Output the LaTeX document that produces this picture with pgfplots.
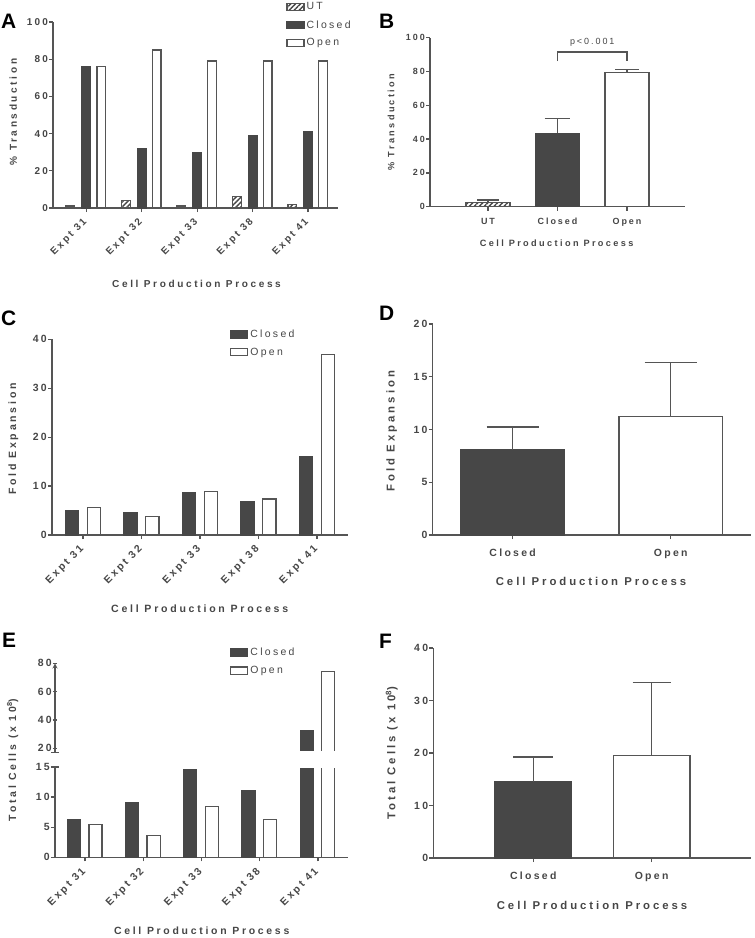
\documentclass[border=0pt]{standalone}
\usepackage{pgfplots}
\pgfplotsset{compat=1.18}
\usepackage{fontspec}
\setmainfont{Liberation Sans}
\newfontfamily\gptick[LetterSpace=22]{Liberation Sans}
\newfontfamily\gplab[LetterSpace=26]{Liberation Sans}
\newfontfamily\gpleg[LetterSpace=22]{Liberation Sans}
\usetikzlibrary{patterns.meta}
\definecolor{barc}{HTML}{474747}
\definecolor{axc}{HTML}{555555}
\definecolor{txc}{HTML}{464646}
\newcommand\tkf[1]{\fontsize{#1}{#1}\selectfont\bfseries\gptick}
\pgfplotsset{
  gp/.style={
    scale only axis,
    axis x line=bottom, axis y line=left,
    axis line style={-, draw=axc, line width=1.3bp},
    tick align=outside, major tick length=4bp,
    tick style={draw=axc, line width=1.3bp},
    minor tick num=0,
    tick label style={text=txc, inner sep=1bp},
    /pgf/number format/assume math mode=true,
    enlargelimits=false,
    ymin=0,
  },
  tf/.style={every tick label/.append style={font=\tkf{#1}}},
  xrot/.style={xtick={0,1,2,3,4}, xticklabels={Expt 31,Expt 32,Expt 33,Expt 38,Expt 41},
    xticklabel style={rotate=45, anchor=east}, xticklabel shift=#1},
  lgbox/.style={legend image code/.code={\draw[##1] (0bp,-3.6bp) rectangle (17bp,3.6bp);}},
  closedbar/.style={ybar, fill=barc, draw=barc, line width=1.3bp, lgbox},
  openbar/.style={ybar, fill=white, draw=axc, line width=1.3bp, lgbox},
  utbar/.style={ybar, draw=axc, line width=1.3bp, pattern={Lines[angle=45,distance=3.5bp,line width=1.4bp]}, pattern color=barc, lgbox},
  errb/.style={/pgfplots/error bars/y dir=plus, /pgfplots/error bars/y explicit,
    /pgfplots/error bars/error mark=|,
    /pgfplots/error bars/error bar style={draw=axc, line width=1.3bp, solid},
    /pgfplots/error bars/error mark options={draw=axc, line width=1.3bp, mark size=#1, solid}},
  gpleg/.style={legend style={draw=none, fill=none, inner sep=0pt, row sep=5bp,
    font=\fontsize{10.5}{12}\selectfont\gpleg, text=txc, cells={anchor=west}}, legend cell align=left},
}
\newcommand\lab[2]{{\fontsize{#1}{#1}\selectfont\gplab\bfseries\color{txc}#2}}
\begin{document}
\begin{tikzpicture}
\path[use as bounding box] (0,0) rectangle (755bp,-938bp);
% ---------------- A
\begin{axis}[gp, tf=10, xrot=8bp, at={(53bp,-208bp)}, anchor=south west,
  width=285bp, height=186bp, xmin=-0.6, xmax=4.54, ymax=100,
  ytick={0,20,40,60,80,100}, yticklabels={0,20,40,60,80,100},
  gpleg, legend style={at={(0.818,1.115)}, anchor=north west}]
\addplot[utbar, bar width=0.157, bar shift=-0.285] coordinates {(0,1) (1,4) (2,1) (3,6) (4,2)};
\addplot[closedbar, bar width=0.157, bar shift=0] coordinates {(0,76) (1,32) (2,30) (3,39) (4,41)};
\addplot[openbar, bar width=0.157, bar shift=0.27] coordinates {(0,76) (1,85) (2,79) (3,79) (4,79)};
\legend{UT, Closed, Open}
\end{axis}
% ---------------- B
\begin{axis}[gp, tf=9, at={(430bp,-206.7bp)}, anchor=south west, clip=false,
  width=255bp, height=169bp, xmin=-0.835, xmax=2.835, ymax=100,
  ytick={0,20,40,60,80,100}, yticklabels={0,20,40,60,80,100},
  xtick={0,1,2}, xticklabels={UT,Closed,Open}, xticklabel shift=6bp]
\addplot[utbar, bar width=0.63, bar shift=0, errb=11bp] coordinates {(0,2.5) +- (0,1.4)};
\addplot[closedbar, bar width=0.63, bar shift=0, errb=12.8bp] coordinates {(1,43.5) +- (0,8.6)};
\addplot[openbar, bar width=0.63, bar shift=0, errb=11.7bp] coordinates {(2,79.5) +- (0,1.5)};
\draw[axc, line width=1.3bp] (axis cs:1,86.2) -- (axis cs:1,91.5) -- (axis cs:2,91.5) -- (axis cs:2,86.2);
\node[text=txc, font=\fontsize{9}{9}\selectfont\gpleg] at (axis cs:1.5,97.3) {p<0.001};
\end{axis}
% ---------------- C
\begin{axis}[gp, tf=10.5, xrot=8bp, at={(52bp,-535bp)}, anchor=south west,
  width=296bp, height=195.7bp, xmin=-0.53, xmax=4.53, ymax=40,
  ytick={0,10,20,30,40}, yticklabels={0,10,20,30,40},
  gpleg, legend style={at={(0.601,1.06)}, anchor=north west}]
\addplot[closedbar, bar width=0.225, bar shift=-0.19] coordinates {(0,4.9) (1,4.55) (2,8.7) (3,6.75) (4,16.0)};
\addplot[openbar, bar width=0.225, bar shift=0.185] coordinates {(0,5.65) (1,3.8) (2,8.85) (3,7.35) (4,36.9)};
\legend{Closed, Open}
\end{axis}
% ---------------- D
\begin{axis}[gp, tf=10.5, at={(432.7bp,-535bp)}, anchor=south west,
  width=318bp, height=211bp, xmin=-0.506, xmax=1.506, ymax=20,
  ytick={0,5,10,15,20}, yticklabels={0,5,10,15,20},
  xtick={0,1}, xticklabels={Closed,Open}, xticklabel shift=9bp]
\addplot[closedbar, bar width=0.656, bar shift=0, errb=26bp] coordinates {(0,8.1) +- (0,2.15)};
\addplot[openbar, bar width=0.656, bar shift=0, errb=26bp] coordinates {(1,11.25) +- (0,5.1)};
\end{axis}
% ---------------- E (broken axis: lower part)
\begin{axis}[gp, tf=10.5, xrot=8bp, name=E1, at={(55bp,-857.3bp)}, anchor=south west,
  width=293bp, height=90.3bp, xmin=-0.517, xmax=4.517, ymax=15,
  ytick={0,5,10,15}, yticklabels={0,5,10,15}]
\addplot[closedbar, bar width=0.224, bar shift=-0.193] coordinates {(0,6.2) (1,9.0) (2,14.6) (3,11.0) (4,32.7)};
\addplot[openbar, bar width=0.224, bar shift=0.178] coordinates {(0,5.4) (1,3.6) (2,8.4) (3,6.3) (4,74)};
\end{axis}
% ---------------- E (upper part)
\begin{axis}[gp, tf=10.5, name=E2, at={(55bp,-752.5bp)}, anchor=south west,
  width=293bp, height=89.2bp, xmin=-0.517, xmax=4.517, ymin=17, ymax=80,
  ytick={20,40,60,80}, yticklabels={20,40,60,80},
  axis x line=none, axis y line=left, restrict y to domain=17:100,
  gpleg, legend style={at={(0.597,1.194)}, anchor=north west}]
\addplot[closedbar, bar width=0.224, bar shift=-0.193] coordinates {(0,6.2) (1,9.0) (2,14.6) (3,11.0) (4,32.7)};
\addplot[openbar, bar width=0.224, bar shift=0.178] coordinates {(0,5.4) (1,3.6) (2,8.4) (3,6.3) (4,74)};
\legend{Closed, Open}
\end{axis}
\fill[white] ([xshift=1bp,yshift=1.2bp]E2.south west) rectangle ([yshift=-1bp]E1.north east);
\draw[axc, line width=1.3bp] ([xshift=-4bp]E2.south west) -- ([xshift=4bp]E2.south west);
\draw[axc, line width=1.3bp] ([xshift=-4bp]E1.north west) -- ([xshift=4bp]E1.north west);
% ---------------- F
\begin{axis}[gp, tf=10.5, at={(433.3bp,-858bp)}, anchor=south west,
  width=317.7bp, height=210bp, xmin=-0.845, xmax=1.84, ymax=40,
  ytick={0,10,20,30,40}, yticklabels={0,10,20,30,40},
  xtick={0,1}, xticklabels={Closed,Open}, xticklabel shift=9bp]
\addplot[closedbar, bar width=0.65, bar shift=0, errb=20bp] coordinates {(0,14.5) +- (0,4.75)};
\addplot[openbar, bar width=0.65, bar shift=0, errb=19bp] coordinates {(1,19.5) +- (0,13.9)};
\end{axis}
% ---------------- titles
\node at (196.5bp,-284bp) {\lab{10.1}{Cell Production Process}};
\node at (556.7bp,-243.7bp) {\lab{9.2}{Cell Production Process}};
\node at (199.7bp,-608.3bp) {\lab{10.6}{Cell Production Process}};
\node at (591bp,-581.7bp) {\lab{11.4}{Cell Production Process}};
\node at (201.7bp,-930.7bp) {\lab{10.5}{Cell Production Process}};
\node at (592bp,-905bp) {\lab{11.4}{Cell Production Process}};
\node[rotate=90] at (13.3bp,-112bp) {\lab{10.1}{\% Transduction}};
\node[rotate=90] at (391bp,-122bp) {\lab{9.2}{\% Transduction}};
\node[rotate=90] at (13.3bp,-439bp) {\lab{10.6}{Fold Expansion}};
\node[rotate=90] at (391.7bp,-431bp) {\lab{11.4}{Fold Expansion}};
\node[rotate=90] at (12.7bp,-760bp) {\lab{10.5}{Total Cells (x 10\textsuperscript{8})}};
\node[rotate=90] at (391.7bp,-753bp) {\lab{11.4}{Total Cells (x 10\textsuperscript{8})}};
% ---------------- panel letters
\foreach \L/\x/\y in {A/1/28, B/379/28, C/1/325, D/379/320, E/2/647, F/379/648}
  \node[anchor=base west, inner sep=0pt, font=\fontsize{21}{21}\selectfont\bfseries] at (\x bp,-\y bp) {\L};
\end{tikzpicture}
\end{document}
